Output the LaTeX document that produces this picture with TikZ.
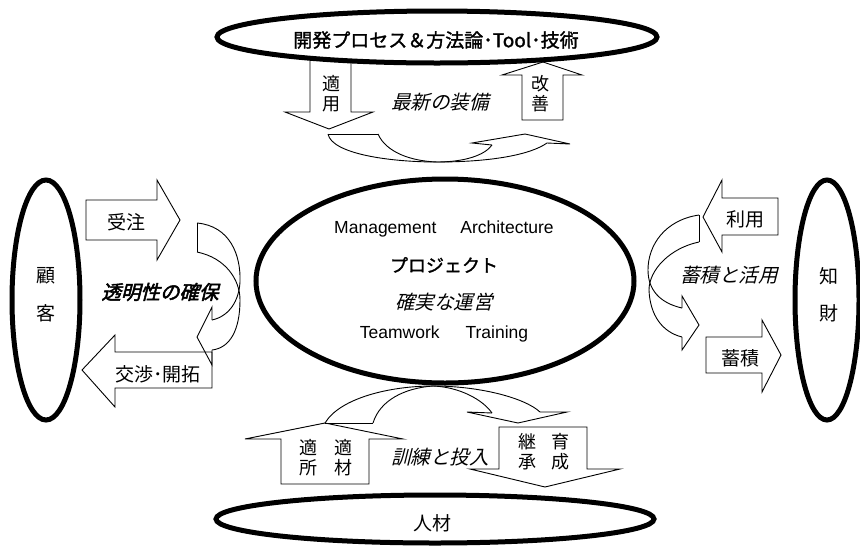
\documentclass[tikz,border=0pt]{standalone}
\usepackage{fontspec}
\setmainfont{Liberation Sans}
\newfontfamily\jp{Noto Sans CJK JP}
\newfontfamily\jpit{Noto Sans CJK JP}[FakeSlant=0.25]
\newfontfamily\jpbi{Noto Sans CJK JP}[FakeSlant=0.25,FakeBold=2.5]
\newfontfamily\jpb{Noto Sans CJK JP}[FakeBold=1.5]
\begin{document}
\begin{tikzpicture}[x=1pt,y=-1pt,
  ring/.style={line width=5pt, draw=black, fill=white},
  blockarrow/.style={draw=black, line width=0.9pt, fill=white, line join=miter},
  ribbon/.style={draw=black, line width=0.9pt},
  jlab/.style={font=\jp\fontsize{19}{22}\selectfont, inner sep=0pt},
  jvert/.style={font=\jp\fontsize{18}{20}\selectfont, inner sep=0pt},
  jital/.style={font=\jpit\fontsize{19.5}{22}\selectfont, inner sep=0pt},
  jbital/.style={font=\jpbi\fontsize{19.5}{22}\selectfont, inner sep=0pt},
  eng/.style={font=\fontsize{17.5}{20}\selectfont, inner sep=0pt}]
\useasboundingbox (0,0) rectangle (860,547);
\fill[white] (0,0) rectangle (860,547);

% ---------- top block arrows ----------
\draw[blockarrow] (310,55) -- (351,55) -- (351,112) -- (373,112) -- (329,129) -- (285,112) -- (310,112) -- cycle;
\draw[blockarrow] (522,120) -- (563,120) -- (563,75) -- (582,75) -- (543,62) -- (502,75) -- (522,75) -- cycle;

% ---------- ellipses ----------
\draw[ring] (437,37) ellipse [x radius=220pt, y radius=26pt];
\node[font=\jpb\fontsize{19}{22}\selectfont, inner sep=0pt] (tool) at (436,40) {開発プロセス＆方法論･Tool･技術};

\draw[ring] (445,281) ellipse [x radius=189pt, y radius=102pt];
\draw[ring] (46,300) ellipse [x radius=34pt, y radius=120pt];
\draw[ring] (827,300) ellipse [x radius=32pt, y radius=120pt];
\draw[ring] (435,519) ellipse [x radius=219pt, y radius=24pt];

% ---------- top texts ----------
\node[jvert] (tekiyo1) at (331,84) {適};
\node[jvert] (tekiyo2) at (331,104) {用};
\node[jvert] (kaizen1) at (540,84) {改};
\node[jvert] (kaizen2) at (540,104) {善};
\node[jital] (saishin) at (440,102) {最新の装備};

% top ribbon arrow
\coordinate (tA) at (328,134);
\coordinate (tB) at (378,134);
\coordinate (tC) at (492,145);
\coordinate (tD) at (547,143);
\draw[ribbon] (tA) -- (tB);
\draw[ribbon] (tA) .. controls (332,154) and (390,162) .. (437,162) .. controls (490,162) and (530,155) .. (tD);
\draw[ribbon] (tB) .. controls (386,152) and (410,161) .. (437,162) .. controls (465,162) and (485,155) .. (tC);
\draw[ribbon, line join=miter] (tC) -- (472,143) -- (525,134) -- (570,144) -- (tD);

% ---------- left side ----------
\node[jlab] (ko1) at (46,276) {顧};
\node[jlab] (ko2) at (46,313) {客};

\draw[blockarrow] (86,200) -- (157,200) -- (157,180) -- (180,220) -- (157,260) -- (157,240) -- (86,240) -- cycle;
\node[jlab] (juchu) at (126,222) {受注};

\draw[blockarrow] (212,352) -- (115,352) -- (115,335) -- (82,370) -- (115,407) -- (115,388) -- (212,388) -- cycle;
\node[jlab] (kosho) at (158,374) {交渉･開拓};

\coordinate (lA) at (197,223);
\coordinate (lB) at (197,252);
\coordinate (lC) at (212,320);
\coordinate (lD) at (212,350);
\draw[ribbon] (lA) -- (lB);
\draw[ribbon] (lA) .. controls (230,226) and (241,255) .. (240,282) .. controls (239,300) and (230,316) .. (lC);
\draw[ribbon] (lB) .. controls (226,258) and (240,280) .. (240,300) .. controls (240,330) and (230,348) .. (lD);
\draw[ribbon, line join=miter] (lC) -- (212,307) -- (197,337) -- (212,365) -- (lD);

\node[jbital] (tomei) at (160,292) {透明性の確保};

% ---------- right side ----------
\node[jlab] (chi1) at (829,276) {知};
\node[jlab] (chi2) at (829,313) {財};

\draw[blockarrow] (778,198) -- (722,198) -- (722,180) -- (703,217) -- (722,252) -- (722,235) -- (778,235) -- cycle;
\node[jlab] (riyo) at (745,219) {利用};

\draw[blockarrow] (706,337) -- (762,337) -- (762,320) -- (781,355) -- (762,392) -- (762,373) -- (706,373) -- cycle;
\node[jlab] (chikuseki) at (740,358) {蓄積};

\coordinate (rA) at (699,215);
\coordinate (rB) at (699,242);
\coordinate (rC) at (682,308);
\coordinate (rD) at (682,337);
\draw[ribbon] (rA) -- (rB);
\draw[ribbon] (rA) .. controls (665,220) and (648,245) .. (648,270) .. controls (648,290) and (660,303) .. (rC);
\draw[ribbon] (rB) .. controls (670,248) and (649,270) .. (649,290) .. controls (650,315) and (662,332) .. (rD);
\draw[ribbon, line join=miter] (rC) -- (682,296) -- (699,325) -- (682,350) -- (rD);

\node[jital] (katsuyo) at (729,275) {蓄積と活用};

% ---------- center texts ----------
\node[eng] (mgmt) at (444,229) {Management\hspace{24pt}Architecture};
\node[font=\jpb\fontsize{18}{20}\selectfont, inner sep=0pt] (proj) at (444,265) {プロジェクト};
\node[jital] (unei) at (444,302) {確実な運営};
\node[eng] (team) at (444,334) {Teamwork\hspace{26pt}Training};

% ---------- bottom ----------
\draw[blockarrow] (281,484) -- (369,484) -- (369,439) -- (403,439) -- (325,423) -- (245,439) -- (281,439) -- cycle;
\node[jvert] (b1) at (308,448) {適};
\node[jvert] (b2) at (343,448) {適};
\node[jvert] (b3) at (308,468) {所};
\node[jvert] (b4) at (343,468) {材};

\draw[blockarrow] (499,427) -- (587,427) -- (587,469) -- (620,469) -- (545,487) -- (470,469) -- (499,469) -- cycle;
\node[jvert] (c1) at (527,442) {継};
\node[jvert] (c2) at (560,442) {育};
\node[jvert] (c3) at (527,462) {承};
\node[jvert] (c4) at (560,462) {成};

\coordinate (bA) at (325,423);
\coordinate (bB) at (373,423);
\coordinate (bC) at (492,413);
\coordinate (bD) at (540,412);
\draw[ribbon] (bA) -- (bB);
\draw[ribbon] (bA) .. controls (340,398) and (390,386) .. (433,386) .. controls (480,386) and (525,398) .. (bD);
\draw[ribbon] (bB) .. controls (380,400) and (405,388) .. (433,386) .. controls (460,387) and (483,400) .. (bC);
\draw[ribbon, line join=miter] (bC) -- (467,412) -- (518,423) -- (567,412) -- (bD);

\node[jital] (kunren) at (440,457) {訓練と投入};
\node[jlab] (jinzai) at (432,523) {人材};
\end{tikzpicture}
\end{document}
